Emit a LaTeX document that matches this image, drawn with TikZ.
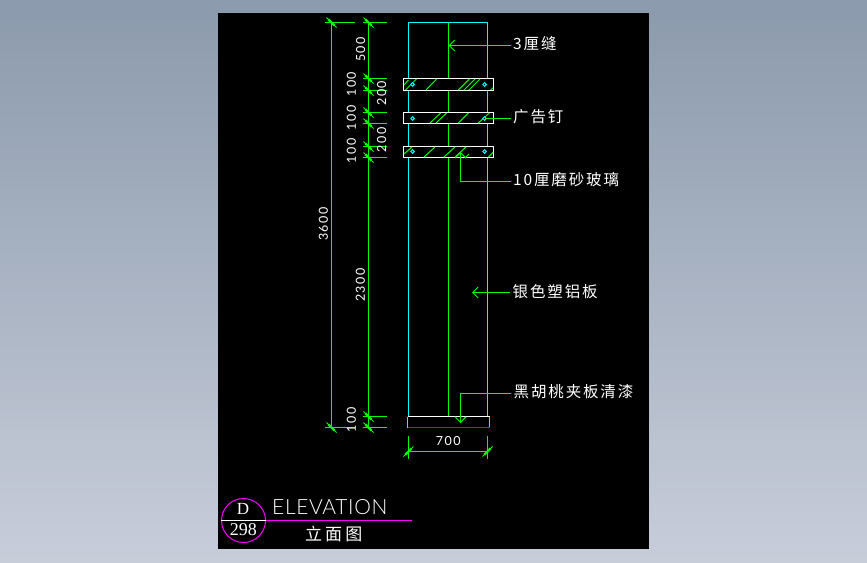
\documentclass[tikz,border=0pt]{standalone}
\usepackage{fontspec}
\usetikzlibrary{arrows.meta,calc,shapes.geometric}
\setmainfont{Liberation Sans}
\newfontfamily\cjkfont[LetterSpace=12]{Noto Sans CJK SC}
\newfontfamily\cjkwide[LetterSpace=18]{Noto Sans CJK SC}
\newfontfamily\dimfont[LetterSpace=12]{Lato}
\newfontfamily\titlefont[LetterSpace=3]{Lato Light}
\newfontfamily\reffont{Liberation Serif}
\definecolor{bgtop}{RGB}{139,154,172}
\definecolor{bgbot}{RGB}{200,205,218}
\definecolor{cadgreen}{RGB}{0,255,0}
\definecolor{cadcyan}{RGB}{0,255,255}
\definecolor{cadmag}{RGB}{255,0,255}
\tikzset{
  gline/.style={draw=cadgreen,line width=1pt},
  cline/.style={draw=cadcyan,line width=1pt},
  leader/.style={gline,-{Straight Barb[length=5.5pt,width=11pt,line width=1pt]}},
  hatchline/.style={draw=cadgreen,line width=1pt},
  barbox/.style={draw=white,fill=black,line width=1pt,minimum width=90pt,inner sep=0pt},
  dimlabel/.style={text=white,font=\dimfont\fontsize{12.5}{13}\selectfont,inner sep=0pt,rotate=90},
  note/.style={text=white,font=\cjkfont\fontsize{15.5}{16}\selectfont,anchor=west,inner sep=2.5pt},
  screw/.style={draw=cadcyan,fill=black,line width=1pt,diamond,inner sep=0pt,minimum size=4pt},
}
\newcommand{\ticknw}[1]{%
  \draw[cadgreen,line width=1pt] ($(#1)+(-5,-5)$) -- ($(#1)+(5,5)$);
  \draw[cadgreen,line width=2.4pt] ($(#1)+(-3.2,-3.2)$) -- ($(#1)+(3,3)$);}
\newcommand{\tickne}[1]{%
  \draw[cadgreen,line width=1pt] ($(#1)+(-5,5)$) -- ($(#1)+(5,-5)$);
  \draw[cadgreen,line width=2.4pt] ($(#1)+(-3.2,3.2)$) -- ($(#1)+(3,-3)$);}
\begin{document}
\begin{tikzpicture}[x=1pt,y=-1pt]
\useasboundingbox (0,0) rectangle (867,562);
\shade[top color=bgtop,bottom color=bgbot,shading angle=0] (0,0) rectangle (867,562);
\fill[black] (218,13) rectangle (649,549);

% column
\coordinate (coltl) at (408.5,22.5);
\coordinate (coltr) at (487.5,22.5);
\coordinate (colbl) at (408.5,416.5);
\coordinate (colbr) at (487.5,416.5);
\coordinate (ctop) at (448.5,22.5);
\coordinate (cbot) at (448.5,416.5);
\draw[cline] (colbl) -- (coltl) -- (coltr) -- (colbr);
\draw[gline] (ctop) -- (cbot);

% bars
\node[barbox,minimum height=12pt] (barA) at (448.5,84.5) {};
\node[barbox,minimum height=11pt] (barB) at (448.5,118) {};
\node[barbox,minimum height=11pt] (barC) at (448.5,152) {};
\foreach \a/\b/\c/\d in {405.5/90/416.5/79, 426/90/436.7/79, 458.3/90/469.3/79, 464/90/475/79, 469/90/480/79, 490.7/90/493/87.7, 404/85/408.5/80,
  430/123/440.7/113, 436/123/446.7/113, 458.3/123/468.3/113, 478.3/123/489.3/113,
  404/154/412/147, 424/157/435/147, 444/157/455/147, 455/157/466/147, 466/157/469/154, 488.3/157/493/152.3}
  \draw[hatchline] (\a,\b) -- (\c,\d);
\foreach \x/\y [count=\i] in {412.5/84.5, 484.5/84.5, 412.5/118.5, 484.5/118.5, 412.5/151.5, 484.5/151.5}
  \node[screw] (scr\i) at (\x,\y) {};

% base
\coordinate (basetl) at (407.5,416.5);
\coordinate (basetr) at (489.5,416.5);
\coordinate (basebl) at (407.5,427.5);
\coordinate (basebr) at (489.5,427.5);
\draw[cline] (basetl) -- (basebl) (basetr) -- (basebr);
\draw[white,line width=1pt] (basetl) -- (basetr);
\draw[red,line width=1pt] (basebl) -- (basebr);

% overall dimension
\coordinate (La) at (331.5,22.5);
\coordinate (Lb) at (331.5,427.5);
\draw[gline] (La) -- (Lb);
\draw[gline] (325,22.5) -- (355,22.5) (325,427.5) -- (355,427.5);
\ticknw{La}\ticknw{Lb}
\node[dimlabel] (d3600) at (323.3,224) {3600};

% chained dimension
\coordinate (Ma) at (368.5,22.5);
\coordinate (Mb) at (368.5,78.5);
\coordinate (Mc) at (368.5,90.5);
\coordinate (Md) at (368.5,112.5);
\coordinate (Me) at (368.5,123.5);
\coordinate (Mf) at (368.5,146.5);
\coordinate (Mg) at (368.5,157.5);
\coordinate (Mh) at (368.5,416.5);
\coordinate (Mi) at (368.5,427.5);
\draw[gline] (Ma) -- (Mi);
\foreach \n in {Ma,Mb,Mc,Md,Me,Mf,Mg,Mh,Mi}{
  \draw[gline] ($(\n)+(-6,0)$) -- ($(\n)+(18,0)$);
  \ticknw{\n}
}
\node[dimlabel] (d500) at (360.6,49.6) {500};
\node[dimlabel] (d100a) at (351.3,84.3) {100};
\node[dimlabel] (d100b) at (351.3,117.7) {100};
\node[dimlabel] (d100c) at (351.3,151) {100};
\node[dimlabel] (d200a) at (381.7,93.3) {200};
\node[dimlabel] (d200b) at (381.7,140) {200};
\node[dimlabel] (d2300) at (360.3,285) {2300};
\node[dimlabel] (d100d) at (351.3,420) {100};

% width dimension
\coordinate (Wa) at (408.5,451.5);
\coordinate (Wb) at (487.5,451.5);
\draw[gline] (Wa) -- (Wb);
\draw[gline] (408.5,436) -- (408.5,459) (487.5,436) -- (487.5,459);
\tickne{Wa}\tickne{Wb}
\node[dimlabel,rotate=-90] (d700) at (448.3,441.3) {700};

% notes and leaders
\node[note] (n1) at (510.5,43.3) {3厘缝};
\node[note] (n2) at (510.5,116.7) {广告钉};
\node[note] (n3) at (510.5,180) {10厘磨砂玻璃};
\node[note] (n4) at (510,291.7) {银色塑铝板};
\node[note] (n5) at (511,391.7) {黑胡桃夹板清漆};
\coordinate (t1) at (448.5,45.5);
\coordinate (t2) at (484.5,118.5);
\coordinate (k3) at (460.5,181.5);
\coordinate (t3) at (460.5,152);
\coordinate (t4) at (472,292.5);
\coordinate (k5) at (460.5,393.5);
\coordinate (t5) at (460.5,423);
\draw[leader] (t1 -| n1.west) -- (t1);
\draw[gline] (t2 -| n2.west) -- (t2);
\draw[leader] (k3 -| n3.west) -- (k3) -- (t3);
\draw[leader] (t4 -| n4.west) -- (t4);
\draw[leader] (k5 -| n5.west) -- (k5) -- (t5);

% title block
\node[draw=cadmag,line width=1pt,circle,minimum size=44pt,inner sep=0pt] (tagc) at (243.5,520.5) {};
\coordinate (rulee) at (411.7,520.5);
\draw[cadmag,line width=1pt] (tagc.east) -- (rulee);
\draw[white,line width=1pt] (tagc.west) -- (tagc.east);
\node[text=white,font=\reffont\fontsize{17}{17}\selectfont,inner sep=0pt] (tagd) at (243,509) {D};
\node[text=white,font=\reffont\fontsize{18}{18}\selectfont,inner sep=0pt] (tagn) at (243.3,530) {298};
\node[text=white,font=\titlefont\fontsize{21}{21}\selectfont,anchor=west,inner sep=0pt] (ttl) at (272,507) {ELEVATION};
\node[text=white,font=\cjkwide\fontsize{17}{17}\selectfont,anchor=west,inner sep=0pt] (ttlc) at (305,534) {立面图};
\end{tikzpicture}
\end{document}
